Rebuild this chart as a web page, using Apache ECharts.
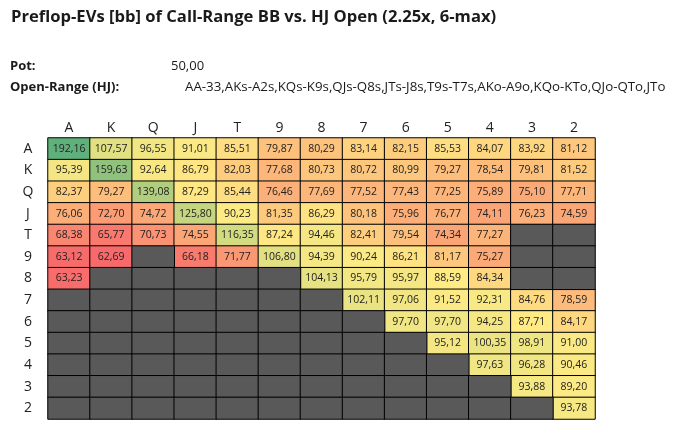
<!DOCTYPE html>
<html><head><meta charset="utf-8">
<script src="https://cdn.jsdelivr.net/npm/echarts@6/dist/echarts.min.js"></script>
<style>html,body{margin:0;padding:0;background:#fff}#c{width:677px;height:432px}</style>
</head><body><div id="c"></div>
<script>
const cols = ['A','K','Q','J','T','9','8','7','6','5','4','3','2'];
const rows = ['A','K','Q','J','T','9','8','7','6','5','4','3','2'];
const N = null;
const evA = [192.16,107.57,96.55,91.01,85.51,79.87,80.29,83.14,82.15,85.53,84.07,83.92,81.12];
const evK = [95.39,159.63,92.64,86.79,82.03,77.68,80.73,80.72,80.99,79.27,78.54,79.81,81.52];
const evQ = [82.37,79.27,139.08,87.29,85.44,76.46,77.69,77.52,77.43,77.25,75.89,75.10,77.71];
const evJ = [76.06,72.70,74.72,125.80,90.23,81.35,86.29,80.18,75.96,76.77,74.11,76.23,74.59];
const evT = [68.38,65.77,70.73,74.55,116.35,87.24,94.46,82.41,79.54,74.34,77.27,N,N];
const ev9 = [63.12,62.69,N,66.18,71.77,106.80,94.39,90.24,86.21,81.17,75.27,N,N];
const ev8 = [63.23,N,N,N,N,N,104.13,95.79,95.97,88.59,84.34,N,N];
const ev7 = [N,N,N,N,N,N,N,102.11,97.06,91.52,92.31,84.76,78.59];
const ev6 = [N,N,N,N,N,N,N,N,97.70,97.70,94.25,87.71,84.17];
const ev5 = [N,N,N,N,N,N,N,N,N,95.12,100.35,98.91,91.00];
const ev4 = [N,N,N,N,N,N,N,N,N,N,97.63,96.28,90.46];
const ev3 = [N,N,N,N,N,N,N,N,N,N,N,93.88,89.20];
const ev2 = [N,N,N,N,N,N,N,N,N,N,N,N,93.78];
const grid13 = [evA,evK,evQ,evJ,evT,ev9,ev8,ev7,ev6,ev5,ev4,ev3,ev2];

const titleText = 'Preflop-EVs [bb] of Call-Range BB vs. HJ Open (2.25x, 6-max)';
const potLabel = 'Pot:';
const potValue = '50,00';
const rangeLabel = 'Open-Range (HJ):';
const rangeValue = 'AA-33,AKs-A2s,KQs-K9s,QJs-Q8s,JTs-J8s,T9s-T7s,AKo-A9o,KQo-KTo,QJo-QTo,JTo';

// 3-colour scale (red - yellow - green)
const RED = [248,105,107], YEL = [255,235,132], GRN = [95,176,122];
const allVals = grid13.flat().filter(v => v !== null);
const vMin = Math.min(...allVals), vMax = Math.max(...allVals), vMid = 88;
function mix(a,b,t){ t=Math.max(0,Math.min(1,t)); return 'rgb(' + a.map((x,i)=>Math.round(x+(b[i]-x)*t)).join(',') + ')'; }
function colorOf(v){ return v <= vMid ? mix(RED,YEL,(v-vMin)/(vMid-vMin)) : mix(YEL,GRN,(v-vMid)/(vMax-vMid)); }

const cells = [], empties = [];
grid13.forEach((row, r) => row.forEach((v, c) => {
  if (v === null) empties.push([c, r, 0]);
  else cells.push({ value: [c, r, v], itemStyle: { color: colorOf(v) } });
}));

const FONT = "'Open Sans', sans-serif";
const chart = echarts.init(document.getElementById('c'), null, {renderer:'canvas'});
chart.setOption({
  animation: false,
  backgroundColor: '#fff',
  grid: { left: 48, right: 82, top: 138, bottom: 13 },
  xAxis: { type: 'category', data: cols, position: 'top',
    axisLine: {show:false}, axisTick: {show:false}, splitLine: {show:false},
    axisLabel: { fontSize: 14, color: '#222', margin: 3, fontFamily: FONT } },
  yAxis: { type: 'category', data: rows, inverse: true,
    axisLine: {show:false}, axisTick: {show:false}, splitLine: {show:false},
    axisLabel: { fontSize: 14, color: '#222', margin: 20, align: 'center', fontFamily: FONT } },
  graphic: [
    { type:'text', x: 11, y: 17, style: { text: titleText, font: "bold 16.6px 'Open Sans', sans-serif", fill:'#1a1a1a', textVerticalAlign:'middle' } },
    { type:'text', x: 10, y: 66, style: { text: potLabel, font: "bold 13px 'Open Sans', sans-serif", fill:'#1a1a1a', textVerticalAlign:'middle' } },
    { type:'text', x: 171, y: 66, style: { text: potValue, font: "13px 'Open Sans', sans-serif", fill:'#1a1a1a', textVerticalAlign:'middle' } },
    { type:'text', x: 10, y: 87, style: { text: rangeLabel, font: "bold 13px 'Open Sans', sans-serif", fill:'#1a1a1a', textVerticalAlign:'middle' } },
    { type:'text', x: 185, y: 87, style: { text: rangeValue, font: "13.3px 'Open Sans', sans-serif", fill:'#1a1a1a', textVerticalAlign:'middle' } }
  ],
  series: [
    { type: 'heatmap', data: cells,
      label: { show: true, fontSize: 10.5, fontFamily: FONT, color: '#222',
        formatter: p => p.value[2].toFixed(2).replace('.', ',') },
      itemStyle: { borderColor: '#000', borderWidth: 1 },
      emphasis: { disabled: true } },
    { type: 'heatmap', data: empties,
      label: { show: false },
      itemStyle: { color: '#595959', borderColor: '#000', borderWidth: 1 },
      emphasis: { disabled: true } }
  ]
});
</script></body></html>
